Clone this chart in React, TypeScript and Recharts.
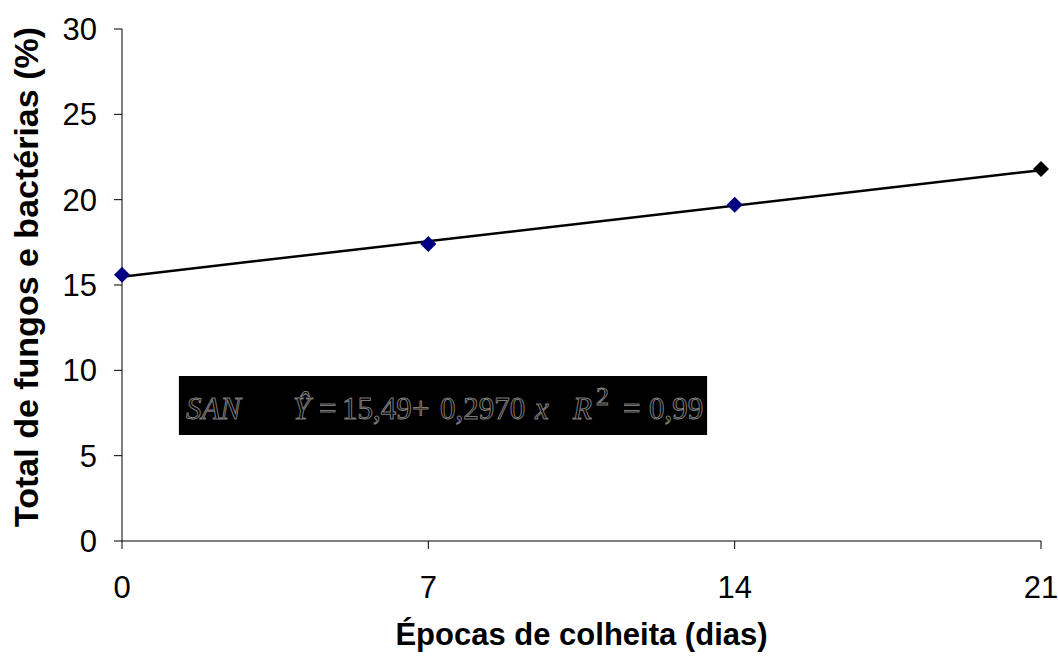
import {
  ComposedChart,
  Line,
  ReferenceArea,
  Scatter,
  XAxis,
  YAxis,
  Cell,
} from 'recharts'

const days = [0, 7, 14, 21]
const totalPct = [15.6, 17.4, 19.7, 21.8]
const pointColors = ['#000080', '#000080', '#000080', '#000000']

const trendDays = [0, 21]
const trendPct = [15.49, 21.73]

const xTicks = [0, 7, 14, 21]
const yTicks = [0, 5, 10, 15, 20, 25, 30]

const points = days.map((d, i) => ({ x: d, y: totalPct[i] }))
const trend = trendDays.map((d, i) => ({ x: d, t: trendPct[i] }))

const Diamond = (props: any) => {
  const { cx, cy, fill } = props
  const r = 8
  return (
    <polygon
      points={`${cx},${cy - r} ${cx + r},${cy} ${cx},${cy + r} ${cx - r},${cy}`}
      fill={fill}
    />
  )
}

// equation pieces: [text, offset from box left, italic?]
const eqParts: [string, number, boolean][] = [
  ['SAN', 7, true],
  ['Ŷ', 114, true],
  ['=', 140, false],
  ['15,49', 163, false],
  ['+', 233, false],
  ['0,2970', 261, false],
  ['x', 356, true],
  ['R', 394, true],
  ['=', 444, false],
  ['0,99', 470, false],
]

const EquationLabel = (props: any) => {
  const { x, y } = props.viewBox
  const base = y + 43
  const common = {
    fontFamily: '"Liberation Serif", "DejaVu Serif", serif',
    fontSize: 31,
    fill: '#000',
    stroke: '#7a7a7a',
    strokeWidth: 1,
  }
  return (
    <g>
      {eqParts.map(([t, off, it], i) => (
        <text key={i} x={x + off} y={base} {...common} fontStyle={it ? 'italic' : 'normal'}>
          {t}
        </text>
      ))}
      <text x={x + 417} y={base - 14} {...common} fontSize={26}>2</text>
    </g>
  )
}

const XTitle = (props: any) => {
  const { x, width } = props.viewBox
  return (
    <text x={x + width / 2} y={645} textAnchor="middle" fontSize={31} fontWeight="bold" fill="#000">
      Épocas de colheita (dias)
    </text>
  )
}

const YTitle = () => {
  const cx = 38
  const cy = 277
  return (
    <text
      x={cx}
      y={cy}
      transform={`rotate(-90, ${cx}, ${cy})`}
      textAnchor="middle"
      fontSize={34}
      fontWeight="bold"
      fill="#000"
    >
      Total de fungos e bactérias (%)
    </text>
  )
}

export default function App() {
  return (
    <div style={{ position: 'absolute', left: 0, top: 0, background: '#fff' }}>
      <ComposedChart
        width={1058}
        height={659}
        margin={{ top: 29, right: 17, bottom: 0, left: 0 }}
        style={{ fontFamily: 'Arial, "Liberation Sans", sans-serif' }}
      >
        <XAxis
          type="number"
          dataKey="x"
          domain={[0, 21]}
          ticks={xTicks}
          height={118}
          stroke="#000"
          tickSize={8}
          tickMargin={27}
          tick={{ fontSize: 31, fill: '#000' }}
          label={<XTitle />}
        />
        <YAxis
          type="number"
          domain={[0, 30]}
          ticks={yTicks}
          width={122}
          stroke="#000"
          tickSize={8}
          tickMargin={17}
          tick={{ fontSize: 31, fill: '#000' }}
          label={<YTitle />}
        />
        <ReferenceArea
          x1={1.3}
          x2={13.37}
          y1={6.21}
          y2={9.67}
          fill="#000"
          fillOpacity={1}
          stroke="none"
          label={<EquationLabel />}
        />
        <Scatter data={points} dataKey="y" shape={<Diamond />} isAnimationActive={false}>
          {points.map((_, i) => (
            <Cell key={i} fill={pointColors[i]} />
          ))}
        </Scatter>
        <Line
          data={trend}
          dataKey="t"
          stroke="#000"
          strokeWidth={2.5}
          dot={false}
          activeDot={false}
          isAnimationActive={false}
        />
      </ComposedChart>
    </div>
  )
}
